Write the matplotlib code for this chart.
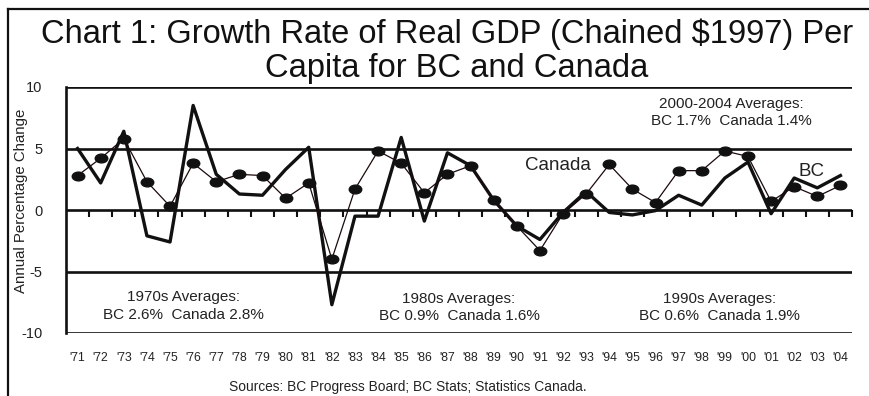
import numpy as np
import matplotlib
matplotlib.use("Agg")
import matplotlib.pyplot as plt
from matplotlib.path import Path
from matplotlib.lines import Line2D

plt.rcParams['font.family'] = ['Liberation Sans', 'DejaVu Sans']

# Annual growth of real GDP per capita, %, 1971-2004
years = ["'71", "'72", "'73", "'74", "'75", "'76", "'77", "'78", "'79", "'80",
         "'81", "'82", "'83", "'84", "'85", "'86", "'87", "'88", "'89", "'90",
         "'91", "'92", "'93", "'94", "'95", "'96", "'97", "'98", "'99", "'00",
         "'01", "'02", "'03", "'04"]
bc = [5.0, 2.2, 6.4, -2.1, -2.6, 8.5, 2.9, 1.3, 1.2, 3.3,
      5.1, -7.7, -0.5, -0.5, 5.9, -0.9, 4.65, 3.6, 0.8, -1.3,
      -2.4, -0.2, 1.5, -0.2, -0.4, -0.05, 1.2, 0.4, 2.6, 3.9,
      -0.3, 2.6, 1.8, 2.8]
canada = [2.8, 4.2, 5.8, 2.3, 0.3, 3.8, 2.3, 2.9, 2.8, 0.95,
          2.2, -4.0, 1.7, 4.8, 3.8, 1.4, 2.9, 3.6, 0.8, -1.3,
          -3.3, -0.3, 1.3, 3.7, 1.7, 0.6, 3.2, 3.2, 4.8, 4.35,
          0.7, 1.9, 1.1, 2.0]

x = np.arange(len(years))

W, H = 869, 396
fig = plt.figure(figsize=(W / 100, H / 100), dpi=100)
ax = fig.add_axes([66 / W, 1 - 333 / H, (852 - 66) / W, (333 - 87) / H])

# outer frame (left and top edges)
fig.add_artist(Line2D([8 / W, 8 / W], [0, 1 - 9 / H], transform=fig.transFigure,
                      color='#111111', lw=1.6))
fig.add_artist(Line2D([8 / W, 1], [1 - 9 / H, 1 - 9 / H], transform=fig.transFigure,
                      color='#111111', lw=1.6))

fig.text(447 / W, 1 - 34 / H, "Chart 1: Growth Rate of Real GDP (Chained $1997) Per",
         ha='center', va='center', fontsize=23.5, color='#111111')
fig.text(457 / W, 1 - 68 / H, "Capita for BC and Canada",
         ha='center', va='center', fontsize=23.5, color='#111111')

# horizontal gridlines
for yv in [10, 5, 0, -5, -10]:
    ax.axhline(yv, color='#111111', lw=1.9, zorder=1)

# ellipse marker for the Canada series
circ = Path.unit_circle()
ellipse = Path(circ.vertices * np.array([1.0, 0.7]), circ.codes)

ax.plot(x, bc, color='#111111', lw=2.4, zorder=3)
ax.plot(x, canada, color='#1c0a0a', lw=0.9, marker=ellipse, markersize=9,
        markerfacecolor='#111111', markeredgecolor='#111111', zorder=4)

ax.set_xlim(-0.5, len(years) - 0.5)
ax.set_ylim(-10, 10)
ax.set_yticks([10, 5, 0, -5, -10])
ax.set_yticklabels(['10', '5', '0', '-5', '-10'])
ax.set_xticks(x)
ax.set_xticklabels(years)
ax.tick_params(axis='x', length=0, pad=14, labelsize=8.8, colors='#222222')
ax.tick_params(axis='y', length=0, pad=17, labelsize=10.5, colors='#222222')

for s in ['top', 'right', 'bottom']:
    ax.spines[s].set_visible(False)
ax.spines['left'].set_linewidth(1.9)
ax.spines['left'].set_color('#111111')

# small upward ticks on the zero line between years
zero_ax = ax.secondary_xaxis(0.5)
zero_ax.set_xticks([])
zero_ax.set_xticks(x + 0.5, minor=True)
zero_ax.tick_params(which='minor', direction='in', length=5, width=1.5, color='#111111')
zero_ax.spines['bottom'].set_visible(False)

fig.text(21 / W, 1 - 201 / H, "Annual Percentage Change", rotation=90,
         ha='center', va='center', fontsize=10.8, color='#222222')

# series labels
ax.text(20.8, 3.6, "Canada", fontsize=13.5, color='#222222', ha='center', va='center')
ax.text(31.75, 3.1, "BC", fontsize=13.5, color='#222222', ha='center', va='center')

# period averages
note = dict(fontsize=11, color='#222222', ha='center', va='center', linespacing=1.3)
ax.text(4.6, -7.8, "1970s Averages:\nBC 2.6%  Canada 2.8%", **note)
ax.text(16.5, -7.95, "1980s Averages:\nBC 0.9%  Canada 1.6%", **note)
ax.text(27.75, -7.9, "1990s Averages:\nBC 0.6%  Canada 1.9%", **note)
ax.text(28.3, 7.9, "2000-2004 Averages:\nBC 1.7%  Canada 1.4%", **note)

fig.text(408 / W, 1 - 387 / H, "Sources: BC Progress Board; BC Stats; Statistics Canada.",
         ha='center', va='center', fontsize=9.9, color='#222222')

fig.savefig("out.png", dpi=100)
